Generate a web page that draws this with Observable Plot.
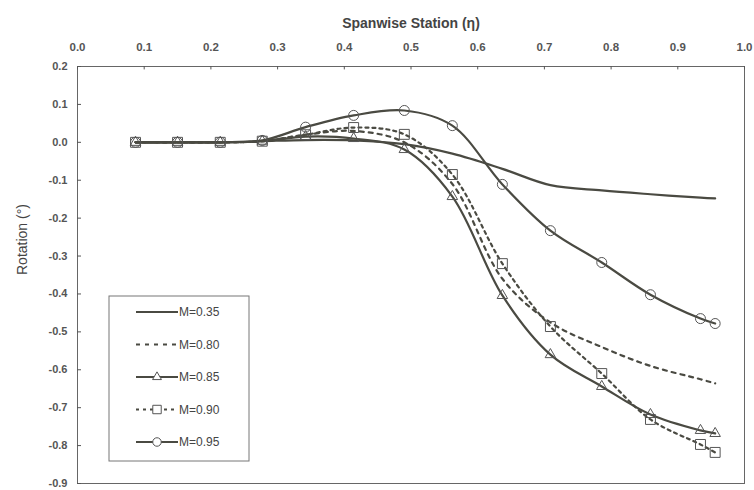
<!DOCTYPE html>
<html>
<head>
<meta charset="utf-8">
<script src="https://cdn.jsdelivr.net/npm/d3@7"></script>
<script src="https://cdn.jsdelivr.net/npm/@observablehq/plot@0.6"></script>
<style>
  html, body { margin: 0; padding: 0; background: #fff; }
  #chart { width: 754px; height: 490px; }
</style>
</head>
<body>
<div id="chart"></div>
<script>
// ---- data ----
const eta = [0.087, 0.150, 0.214, 0.277, 0.342, 0.414, 0.490, 0.562, 0.637, 0.709, 0.786, 0.859, 0.934, 0.956];
const m035 = [0, 0, 0, 0.003, 0.006, 0.005, -0.005, -0.030, -0.070, -0.113, -0.127, -0.137, -0.146, -0.148];
const m080 = [0, 0, 0, 0.003, 0.020, 0.030, 0.000, -0.110, -0.360, -0.475, -0.540, -0.590, -0.625, -0.636];
const m085 = [0, 0, 0, 0.003, 0.015, 0.010, -0.019, -0.143, -0.404, -0.560, -0.644, -0.718, -0.760, -0.768];
const m090 = [0, 0, 0, 0.003, 0.020, 0.039, 0.021, -0.085, -0.320, -0.486, -0.610, -0.731, -0.797, -0.818];
const m095 = [0, 0, 0, 0.005, 0.040, 0.071, 0.084, 0.044, -0.111, -0.233, -0.317, -0.402, -0.465, -0.478];
const seriesNames = ["M=0.35", "M=0.80", "M=0.85", "M=0.90", "M=0.95"];
const xTicks = [0, 0.1, 0.2, 0.3, 0.4, 0.5, 0.6, 0.7, 0.8, 0.9, 1.0];
const yTicks = [0.2, 0.1, 0.0, -0.1, -0.2, -0.3, -0.4, -0.5, -0.6, -0.7, -0.8, -0.9];
const xTitle = "Spanwise Station (η)";
const yTitle = "Rotation (°)";

// ---- styles ----
const ink = "#4a4a42";
const styles = {
  "M=0.35": {dash: null, symbol: null},
  "M=0.80": {dash: "4,5", symbol: null},
  "M=0.85": {dash: null, symbol: "triangle", r: 3.9},
  "M=0.90": {dash: "3,4", symbol: "square", r: 5.6},
  "M=0.95": {dash: null, symbol: "circle", r: 5}
};
const values = [m035, m080, m085, m090, m095];
const rows = seriesNames.flatMap((name, i) => eta.map((e, j) => ({series: name, eta: e, rot: values[i][j]})));

const xDomain = [0, 1];
const yDomain = [-0.9, 0.2];

const marks = [];
marks.push(Plot.frame({stroke: "#666", strokeWidth: 1}));
// inward ticks
marks.push(Plot.ruleX(xTicks, {x: d => d, y1: yDomain[1], y2: yDomain[1] - 0.009, stroke: "#555"}));
marks.push(Plot.ruleY(yTicks, {y: d => d, x1: xDomain[0], x2: xDomain[0] + 0.006, stroke: "#555"}));
for (const name of seriesNames) {
  const st = styles[name];
  const data = rows.filter(d => d.series === name);
  marks.push(Plot.line(data, {x: "eta", y: "rot", curve: "catmull-rom", stroke: ink, strokeWidth: 2.2, strokeDasharray: st.dash}));
  if (st.symbol) {
    marks.push(Plot.dot(data, {x: "eta", y: "rot", symbol: () => st.symbol, r: st.r, stroke: "#555", strokeWidth: 1, fill: "none"}));
  }
}
marks.push(Plot.axisX({anchor: "top", ticks: xTicks, tickFormat: d => d.toFixed(1), tickSize: 0, tickPadding: 16, label: null, fill: "#555", fontWeight: "bold", fontSize: 11.5}));
marks.push(Plot.axisY({anchor: "left", ticks: yTicks, tickFormat: d => d.toFixed(1), tickSize: 0, tickPadding: 10, label: null, fill: "#555", fontWeight: "bold", fontSize: 11}));
marks.push(Plot.text([xTitle], {frameAnchor: "top", dy: -48, text: d => d, fontSize: 14, fontWeight: "bold", fill: "#444", fontFamily: "'Liberation Sans Narrow', 'Liberation Sans', Arial, sans-serif"}));
marks.push(Plot.text([yTitle], {frameAnchor: "left", dx: -55, text: d => d, rotate: -90, fontSize: 14, fill: "#444"}));

const plot = Plot.plot({
  width: 754,
  height: 490,
  marginTop: 66,
  marginLeft: 77,
  marginRight: 10,
  marginBottom: 7,
  x: {domain: xDomain},
  y: {domain: yDomain},
  style: {fontFamily: "'Liberation Sans', Arial, sans-serif", fontSize: "11px", background: "#fff"},
  marks
});
document.getElementById("chart").appendChild(plot);

// ---- legend (in-chart box) ----
const svg = d3.select(plot);
const lg = svg.append("g").attr("class", "legend");
const box = {x: 109, y: 296, w: 140, h: 165};
lg.append("rect").attr("x", box.x).attr("y", box.y).attr("width", box.w).attr("height", box.h)
  .attr("fill", "#fff").attr("stroke", "#777").attr("stroke-width", 1);
seriesNames.forEach((name, i) => {
  const st = styles[name];
  const cy = box.y + 16 + i * 32.5;
  lg.append("line").attr("x1", box.x + 27).attr("x2", box.x + 69).attr("y1", cy).attr("y2", cy)
    .attr("stroke", ink).attr("stroke-width", 2.2).attr("stroke-dasharray", st.dash);
  if (st.symbol) {
    const sym = {triangle: d3.symbolTriangle, square: d3.symbolSquare, circle: d3.symbolCircle}[st.symbol];
    const rr = st.r * 0.85;
    lg.append("path").attr("d", d3.symbol(sym, Math.PI * rr * rr)())
      .attr("transform", `translate(${box.x + 48},${cy})`)
      .attr("fill", "#fff").attr("stroke", "#555").attr("stroke-width", 1);
  }
  lg.append("text").attr("x", box.x + 70).attr("y", cy).attr("dy", "0.35em")
    .attr("text-anchor", "start")
    .attr("font-size", 12).attr("fill", "#444").text(name);
});
</script>
</body>
</html>
